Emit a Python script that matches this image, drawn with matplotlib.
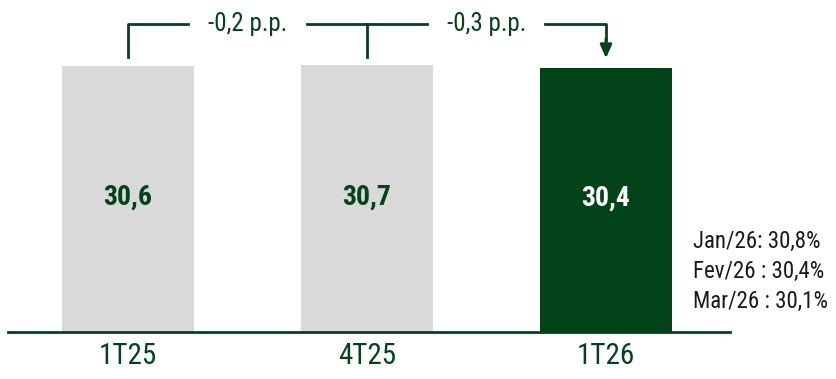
import matplotlib
matplotlib.use("Agg")
import matplotlib.pyplot as plt
from matplotlib import font_manager

names = {f.name for f in font_manager.fontManager.ttflist}
narrow = [n for n in ["Liberation Sans Narrow", "Roboto Condensed", "Roboto"] if n in names]
plt.rcParams['font.family'] = narrow + ['DejaVu Sans']

categories = ["1T25", "4T25", "1T26"]
values = [30.6, 30.7, 30.4]
value_labels = ["30,6", "30,7", "30,4"]
bar_colors = ["#d9d9d9", "#d9d9d9", "#03431a"]
label_colors = ["#03431a", "#03431a", "#ffffff"]
deltas = ["-0,2 p.p.", "-0,3 p.p."]
monthly = ["Jan/26: 30,8%", "Fev/26 : 30,4%", "Mar/26 : 30,1%"]

green = "#03431a"

fig = plt.figure(figsize=(8.36, 3.79), dpi=100)
ax = fig.add_axes([0, 47 / 379, 1, 332 / 379])
x = list(range(len(categories)))
ax.bar(x, values, width=0.55, color=bar_colors)
ax.set_xlim(-128 / 239, (836 - 128) / 239)
ax.set_ylim(0, 332 / 8.69)
ax.axis('off')

# baseline
ax.plot([-0.502, 2.519], [0, 0], color=green, lw=2, clip_on=False)

for xi, v, lab, c in zip(x, values, value_labels, label_colors):
    ax.text(xi, v / 2 + 0.2, lab, ha='center', va='center', color=c,
            fontsize=20, fontweight='bold')

for xi, cat in zip(x, categories):
    ax.text(xi, -2.75, cat, ha='center', va='center', color=green, fontsize=21,
            clip_on=False)

# bracket annotations
top = 35.44
ax.plot([0, 0, 0.25], [31.65, top, top], color=green, lw=2)
ax.plot([0.75, 1.25], [top, top], color=green, lw=2)
ax.plot([1, 1], [top, 31.65], color=green, lw=2)
ax.plot([1.745, 2, 2], [top, top, 33.6], color=green, lw=2)
ax.annotate('', xy=(2, 31.5), xytext=(2, 33.8),
            arrowprops=dict(arrowstyle='-|>,head_width=0.35,head_length=0.8',
                            color=green, lw=2, shrinkA=0, shrinkB=0))
ax.text(0.5, top, deltas[0], ha='center', va='center', color=green, fontsize=18)
ax.text(1.5, top, deltas[1], ha='center', va='center', color=green, fontsize=18)

for i, t in enumerate(monthly):
    ax.text(2.365, 10.4 - i * 3.45, t, ha='left', va='center', color='#1a1a1a',
            fontsize=16.5)

fig.savefig('out.png', dpi=100)
